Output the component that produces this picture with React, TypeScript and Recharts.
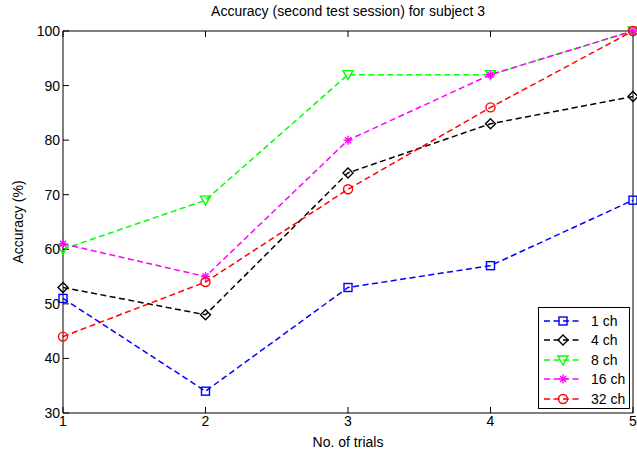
import { LineChart, Line, XAxis, YAxis, Legend } from "recharts";

const trials = [1, 2, 3, 4, 5];
const yTicks = [30, 40, 50, 60, 70, 80, 90, 100];

// accuracy (%) per trial, one array per channel count
const ch1 = [51, 34, 53, 57, 69];
const ch4 = [53, 48, 74, 83, 88];
const ch8 = [60, 69, 92, 92, 100];
const ch16 = [61, 55, 80, 92, 100];
const ch32 = [44, 54, 71, 86, 100];

const series = [
  { key: "ch1", name: "1 ch", color: "#0000ff", marker: "square", values: ch1 },
  { key: "ch4", name: "4 ch", color: "#000000", marker: "diamond", values: ch4 },
  { key: "ch8", name: "8 ch", color: "#00ff00", marker: "triangle", values: ch8 },
  { key: "ch16", name: "16 ch", color: "#ff00ff", marker: "star", values: ch16 },
  { key: "ch32", name: "32 ch", color: "#ff0000", marker: "circle", values: ch32 },
];

const data = trials.map((t, i) => {
  const row: Record<string, number> = { trial: t };
  series.forEach((s) => (row[s.key] = s.values[i]));
  return row;
});

const FONT = "'Liberation Sans', Arial, sans-serif";
const DASH = "6 3.5";
const LINE_W = 1.5;

function Marker({ cx, cy, shape, color }: any) {
  const sw = 1.4;
  switch (shape) {
    case "square":
      return <rect x={cx - 4} y={cy - 4} width={8} height={8} fill="none" stroke={color} strokeWidth={sw} />;
    case "diamond":
      return (
        <polygon
          points={`${cx},${cy - 5} ${cx + 5},${cy} ${cx},${cy + 5} ${cx - 5},${cy}`}
          fill="none"
          stroke={color}
          strokeWidth={sw}
        />
      );
    case "triangle":
      return (
        <polygon
          points={`${cx - 5},${cy - 4} ${cx + 5},${cy - 4} ${cx},${cy + 5}`}
          fill="none"
          stroke={color}
          strokeWidth={sw}
        />
      );
    case "star":
      return (
        <g stroke={color} strokeWidth={sw}>
          <line x1={cx - 4.5} y1={cy} x2={cx + 4.5} y2={cy} />
          <line x1={cx} y1={cy - 4.5} x2={cx} y2={cy + 4.5} />
          <line x1={cx - 3} y1={cy - 3} x2={cx + 3} y2={cy + 3} />
          <line x1={cx - 3} y1={cy + 3} x2={cx + 3} y2={cy - 3} />
        </g>
      );
    default:
      return <circle cx={cx} cy={cy} r={4.5} fill="none" stroke={color} strokeWidth={sw} />;
  }
}

const LegendBox = () => (
  <div
    style={{
      width: 92,
      height: 102,
      border: "1px solid #000",
      background: "#fff",
      fontFamily: FONT,
      fontSize: 14,
      boxSizing: "border-box",
      paddingTop: 3,
    }}
  >
    {series.map((s) => (
      <div key={s.key} style={{ display: "flex", alignItems: "center", height: 19.5 }}>
        <svg width={46} height={14} style={{ marginLeft: 2 }}>
          <line x1={3} y1={7} x2={41} y2={7} stroke={s.color} strokeWidth={LINE_W} strokeDasharray={DASH} />
          <Marker cx={22} cy={7} shape={s.marker} color={s.color} />
        </svg>
        <span style={{ marginLeft: 4 }}>{s.name}</span>
      </div>
    ))}
  </div>
);

export default function App() {
  return (
    <div style={{ position: "absolute", left: 0, top: 0, width: 637, height: 459, background: "#fff" }}>
      <div
        style={{
          position: "absolute",
          left: 63,
          width: 570,
          top: 3,
          textAlign: "center",
          fontFamily: FONT,
          fontSize: 14,
          color: "#000",
        }}
      >
        Accuracy (second test session) for subject 3
      </div>
      <LineChart
        width={637}
        height={459}
        data={data}
        margin={{ top: 0, right: 0, bottom: 0, left: 0 }}
        style={{ fontFamily: FONT }}
      >
        <XAxis
          dataKey="trial"
          type="number"
          domain={[1, 5]}
          ticks={trials}
          height={46}
          stroke="#000"
          tickSize={-6}
          tickMargin={9}
          tick={{ fill: "#000", fontSize: 14 }}
          label={{ value: "No. of trials", position: "insideBottom", offset: 12, fill: "#000", fontSize: 14 }}
        />
        <XAxis
          xAxisId="top"
          orientation="top"
          dataKey="trial"
          type="number"
          domain={[1, 5]}
          ticks={trials}
          height={31}
          stroke="#000"
          tickSize={-6}
          tickFormatter={() => ""}
        />
        <YAxis
          domain={[30, 100]}
          ticks={yTicks}
          width={63}
          stroke="#000"
          tickSize={-6}
          tickMargin={9}
          tick={{ fill: "#000", fontSize: 14 }}
          label={{
            value: "Accuracy (%)",
            angle: -90,
            position: "insideLeft",
            offset: 18,
            style: { textAnchor: "middle" },
            fill: "#000",
            fontSize: 14,
          }}
        />
        <YAxis
          yAxisId="right"
          orientation="right"
          domain={[30, 100]}
          ticks={yTicks}
          width={4}
          stroke="#000"
          tickSize={-6}
          tickFormatter={() => ""}
        />
        {series.map((s) => (
          <Line
            key={s.key}
            dataKey={s.key}
            name={s.name}
            stroke={s.color}
            strokeWidth={LINE_W}
            strokeDasharray={DASH}
            isAnimationActive={false}
            dot={(p: any) => <Marker key={`${s.key}-${p.index}`} cx={p.cx} cy={p.cy} shape={s.marker} color={s.color} />}
            activeDot={false}
          />
        ))}
        <Legend
          layout="vertical"
          align="center"
          verticalAlign="middle"
          wrapperStyle={{ left: 538, top: 307, width: 92, height: 102 }}
          content={() => <LegendBox />}
        />
      </LineChart>
    </div>
  );
}
